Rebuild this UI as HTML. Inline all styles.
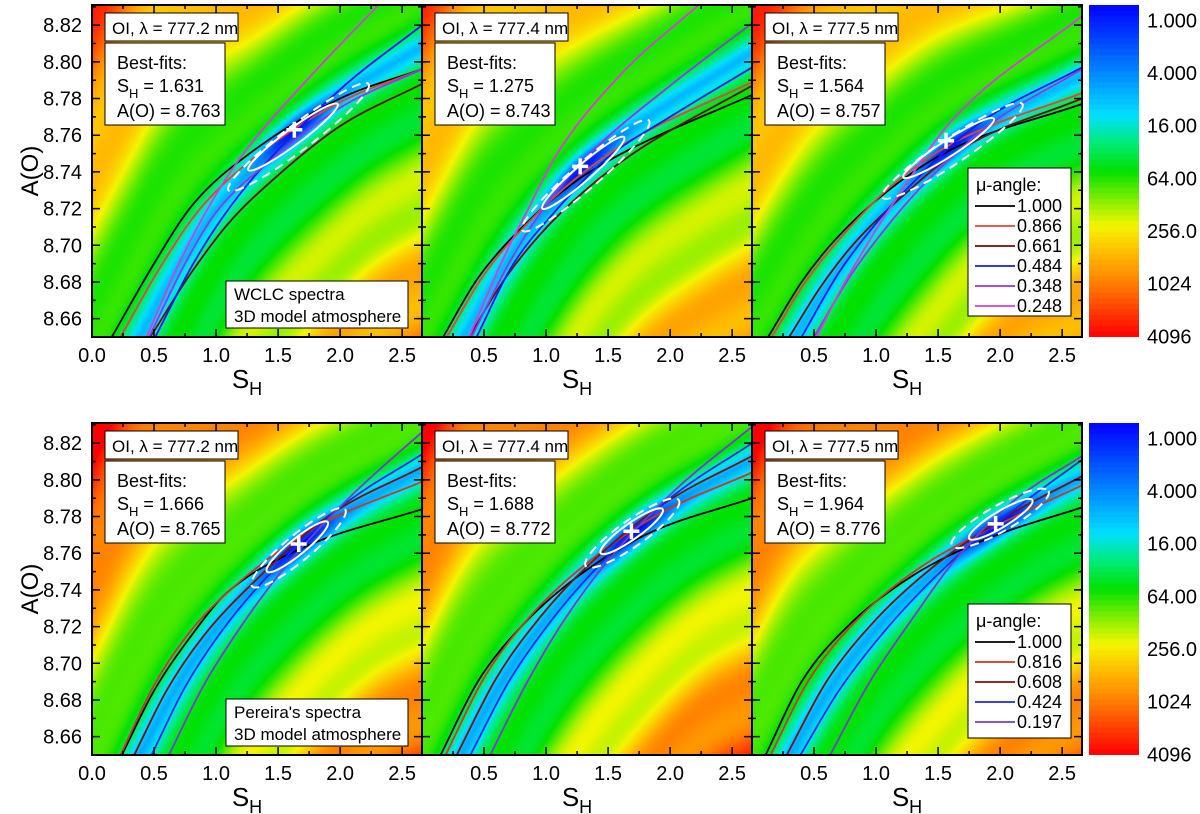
<!DOCTYPE html>
<html><head><meta charset="utf-8">
<style>
html,body{margin:0;padding:0;background:#fff;}
#wrap{position:relative;width:1200px;height:814px;overflow:hidden;font-family:"Liberation Sans",Arial,sans-serif;}
canvas{position:absolute;}
svg{position:absolute;left:0;top:0;}
</style></head>
<body>
<div id="wrap">
<svg id="svg" width="1200" height="814" xmlns="http://www.w3.org/2000/svg"></svg>
</div>
<script>
// ---- data ----
const xTicks = [0, 0.5, 1.0, 1.5, 2.0, 2.5];
const xTickLabels = ["0.0", "0.5", "1.0", "1.5", "2.0", "2.5"];
const yTicks = [8.66, 8.68, 8.70, 8.72, 8.74, 8.76, 8.78, 8.80, 8.82];
const yTickLabels = ["8.66", "8.68", "8.70", "8.72", "8.74", "8.76", "8.78", "8.80", "8.82"];
const cbLabels = ["1.000", "4.000", "16.00", "64.00", "256.0", "1024", "4096"];
const lineNames = ["OI, λ = 777.2 nm", "OI, λ = 777.4 nm", "OI, λ = 777.5 nm"];
const bestS = [1.631, 1.275, 1.564, 1.666, 1.688, 1.964];
const bestA = [8.763, 8.743, 8.757, 8.765, 8.772, 8.776];
const bestSLabels = ["1.631", "1.275", "1.564", "1.666", "1.688", "1.964"];
const bestALabels = ["8.763", "8.743", "8.757", "8.765", "8.772", "8.776"];
const muTop = ["1.000", "0.866", "0.661", "0.484", "0.348", "0.248"];
const muBottom = ["1.000", "0.816", "0.608", "0.424", "0.197"];
// ellipse long-axis endpoints [x1,A1,x2,A2]
const solidEll = [[1.26,8.741,1.98,8.777],[0.97,8.720,1.63,8.759],[1.22,8.737,1.95,8.769],[1.41,8.750,1.90,8.777],[1.44,8.760,1.94,8.784],[1.75,8.768,2.26,8.789]];
const dashEll = [[1.10,8.730,2.23,8.788],[0.81,8.708,1.83,8.768],[1.05,8.726,2.18,8.777],[1.29,8.742,2.04,8.784],[1.32,8.753,2.07,8.789],[1.61,8.764,2.39,8.794]];
// mu-angle curves per panel: [S_H, A(O)] points
const curvesT1 = [
 [[.16,8.65],[.5,8.69],[.81,8.722],[1.29,8.751],[2.0,8.78],[2.66,8.796]],
 [[.23,8.65],[.55,8.688],[.86,8.719],[1.35,8.750],[2.0,8.778],[2.66,8.796]],
 [[.47,8.65],[.8,8.685],[1.1,8.712],[1.48,8.737],[2.0,8.765],[2.66,8.788]],
 [[.51,8.65],[.8,8.688],[1.05,8.715],[1.34,8.740],[2.0,8.785],[2.66,8.820]],
 [[.46,8.65],[.75,8.69],[1.0,8.718],[1.40,8.744],[2.0,8.775],[2.66,8.796]],
 [[.44,8.65],[.7,8.69],[.95,8.722],[1.21,8.749],[1.8,8.795],[2.31,8.831]]];
const curvesT2 = [
 [[.17,8.65],[.45,8.682],[.81,8.710],[1.2,8.733],[1.61,8.75],[2.66,8.782]],
 [[.20,8.65],[.5,8.684],[.85,8.712],[1.25,8.737],[1.65,8.756],[2.66,8.789]],
 [[.38,8.65],[.65,8.68],[.94,8.705],[1.3,8.729],[1.7,8.75],[2.66,8.787]],
 [[.44,8.65],[.72,8.688],[1.08,8.719],[1.5,8.748],[2.0,8.77],[2.66,8.797]],
 [[.40,8.65],[.7,8.69],[1.0,8.722],[1.34,8.749],[2.0,8.787],[2.66,8.821]],
 [[.38,8.65],[.65,8.692],[.85,8.719],[1.08,8.749],[1.6,8.793],[2.23,8.831]]];
const curvesT3 = [
 [[.13,8.65],[.4,8.68],[.67,8.703],[1.1,8.73],[1.6,8.752],[2.66,8.777]],
 [[.16,8.65],[.42,8.679],[.7,8.703],[1.1,8.731],[1.6,8.755],[2.66,8.783]],
 [[.30,8.65],[.55,8.677],[.81,8.70],[1.2,8.726],[1.7,8.753],[2.66,8.780]],
 [[.40,8.65],[.7,8.685],[1.0,8.712],[1.21,8.728],[1.8,8.765],[2.66,8.797]],
 [[.50,8.65],[.8,8.684],[1.05,8.707],[1.34,8.73],[1.9,8.765],[2.66,8.796]],
 [[.52,8.65],[.75,8.68],[.95,8.703],[1.13,8.722],[1.61,8.768],[2.66,8.825]]];
const curvesB1 = [
 [[.24,8.65],[.5,8.685],[.8,8.715],[1.08,8.738],[1.7,8.763],[2.66,8.784]],
 [[.23,8.65],[.5,8.688],[.8,8.718],[1.2,8.745],[1.8,8.774],[2.66,8.799]],
 [[.34,8.65],[.6,8.685],[.9,8.715],[1.3,8.744],[1.9,8.78],[2.66,8.807]],
 [[.48,8.65],[.75,8.687],[1.05,8.718],[1.45,8.75],[2.0,8.785],[2.66,8.814]],
 [[.62,8.65],[.9,8.688],[1.2,8.72],[1.55,8.752],[2.1,8.792],[2.66,8.826]]];
const curvesB2 = [
 [[.15,8.65],[.45,8.69],[.8,8.72],[1.21,8.745],[1.8,8.77],[2.66,8.790]],
 [[.19,8.65],[.5,8.692],[.85,8.724],[1.3,8.753],[1.9,8.781],[2.66,8.804]],
 [[.28,8.65],[.6,8.692],[.95,8.725],[1.35,8.754],[1.95,8.787],[2.66,8.813]],
 [[.39,8.65],[.7,8.69],[1.05,8.724],[1.45,8.755],[2.0,8.79],[2.66,8.820]],
 [[.55,8.65],[.85,8.69],[1.15,8.724],[1.5,8.756],[2.05,8.795],[2.66,8.829]]];
const curvesB3 = [
 [[.11,8.65],[.4,8.69],[.8,8.722],[1.3,8.748],[1.9,8.768],[2.66,8.785]],
 [[.15,8.65],[.45,8.69],[.85,8.724],[1.35,8.752],[2.0,8.776],[2.66,8.797]],
 [[.28,8.65],[.6,8.69],[1.0,8.724],[1.45,8.752],[2.0,8.778],[2.66,8.802]],
 [[.39,8.65],[.7,8.685],[1.1,8.72],[1.6,8.755],[2.1,8.783],[2.66,8.811]],
 [[.63,8.65],[.95,8.69],[1.3,8.725],[1.61,8.754],[2.1,8.788],[2.66,8.813]]];
const allCurves = [curvesT1, curvesT2, curvesT3, curvesB1, curvesB2, curvesB3];
const topColors = ["#000000", "#e8403a", "#6a1010", "#1a1ae6", "#8a3ae6", "#d040d8"];
const botColors = ["#000000", "#c83a22", "#7a1010", "#1a2ae6", "#7040c8"];

// ---- geometry ----
const XMAX = 2.66, AMIN = 8.65, AMAX = 8.831;
const PW = 330, PH = 332;
const lefts = [92, 422, 752], tops = [5, 423];
function sx(p, x){ return lefts[p%3] + x / XMAX * PW; }
function sy(p, a){ return tops[Math.floor(p/3)] + (AMAX - a) / (AMAX - AMIN) * PH; }

const svg = document.getElementById('svg');
const NS = "http://www.w3.org/2000/svg";
function mk(tag, attrs, parent){ const e = document.createElementNS(NS, tag); for (const k in attrs) e.setAttribute(k, attrs[k]); (parent||svg).appendChild(e); return e; }

// colormap on log4 level 0..6
const cstops = [[0,0,0,255],[1,0,110,255],[2,0,225,255],[2.5,0,235,120],[3,0,225,0],[3.6,150,240,0],[4,245,245,0],[4.5,255,185,0],[5,255,130,0],[6,255,0,0]];
function cmap(L){
  if (L <= 0) return [0,0,255];
  if (L >= 6) return [255,0,0];
  for (let i=0;i<cstops.length-1;i++){ const a=cstops[i], b=cstops[i+1];
    if (L>=a[0] && L<=b[0]){ const t=(L-a[0])/(b[0]-a[0]); return [a[1]+(b[1]-a[1])*t, a[2]+(b[2]-a[2])*t, a[3]+(b[3]-a[3])*t]; } }
  return [255,0,0];
}
function tangents(P){
  const n=P.length, dk=[], m=[];
  for (let i=0;i<n-1;i++) dk.push((P[i+1][1]-P[i][1])/(P[i+1][0]-P[i][0]));
  m.push(dk[0]);
  for (let i=1;i<n-1;i++){ m.push(dk[i-1]*dk[i]<=0?0:(dk[i-1]+dk[i])/2); }
  m.push(dk[n-2]);
  for (let i=0;i<n-1;i++){ if (dk[i]===0){m[i]=0;m[i+1]=0;continue;} const a=m[i]/dk[i], b=m[i+1]/dk[i]; const s=a*a+b*b; if (s>9){ const t=3/Math.sqrt(s); m[i]=t*a*dk[i]; m[i+1]=t*b*dk[i]; } }
  return m;
}
function interpA(pts, x){
  const m = tangents(pts); const n = pts.length;
  if (x <= pts[0][0]) return pts[0][1] + m[0]*(x-pts[0][0]);
  if (x >= pts[n-1][0]) return pts[n-1][1] + m[n-1]*(x-pts[n-1][0]);
  let i = 0; while (x > pts[i+1][0]) i++;
  const h = pts[i+1][0]-pts[i][0], t = (x-pts[i][0])/h;
  const h00=2*t*t*t-3*t*t+1, h10=t*t*t-2*t*t+t, h01=-2*t*t*t+3*t*t, h11=t*t*t-t*t;
  return h00*pts[i][1]+h10*h*m[i]+h01*pts[i+1][1]+h11*h*m[i+1];
}

// ---- backgrounds ----
for (let p=0;p<6;p++){
  const cv = document.createElement('canvas');
  cv.width = PW; cv.height = PH;
  cv.style.left = lefts[p%3] + 'px'; cv.style.top = tops[Math.floor(p/3)] + 'px';
  
  
  document.getElementById('wrap').insertBefore(cv, svg);
  const ctx = cv.getContext('2d'); const img = ctx.createImageData(PW, PH);
  const curves = allCurves[p];
  const raw = [];
  for (let c=-40;c<=PW+40;c++){ const x = c/PW*XMAX; let s=0; curves.forEach(cu=>{ s+=interpA(cu,x); }); raw.push((AMAX - s/curves.length)/(AMAX-AMIN)*PH); }
  const yc = [];
  for (let c=-1;c<=PW;c++){ let s=0,k=0; for (let j=-25;j<=25;j++){ const idx=c+40+j; if(idx>=0&&idx<raw.length){s+=raw[idx];k++;} } yc.push(s/k); }
  const bot = p>=3;
  const ka = bot?0.021:0.016, kb = bot?0.0125:0.0105, base = bot?2.3:2.4;
  const bx = (bestS[p]/XMAX)*PW, by = (AMAX-bestA[p])/(AMAX-AMIN)*PH;
  for (let c=0;c<PW;c++){
    const slope = (yc[c+2]-yc[c])/2; const cs = 1/Math.sqrt(1+slope*slope);
    for (let r=0;r<PH;r++){
      const d = (yc[c+1]-r)*cs;
      const ad = Math.abs(d);
      let L = base + (d>0?ka:kb)*ad + 0.3*Math.sin(2*Math.PI*ad/80 - 0.6) - 0.6*Math.exp(-(ad/16)*(ad/16));
      const along = ((c-bx) + (r-by)*slope) * cs;
      L -= 1.5*Math.exp(-(along/45)*(along/45) - (d/11)*(d/11));
      const col = cmap(L); const k = (r*PW+c)*4;
      img.data[k]=col[0]; img.data[k+1]=col[1]; img.data[k+2]=col[2]; img.data[k+3]=255;
    }
  }
  ctx.putImageData(img,0,0);
}

// colorbars
for (let row=0; row<2; row++){
  const cv = document.createElement('canvas');
  cv.width = 50; cv.height = 332;
  cv.style.left = '1089px'; cv.style.top = tops[row] + 'px';
  
  
  document.getElementById('wrap').insertBefore(cv, svg);
  const ctx = cv.getContext('2d');
  const nb = 60;
  for (let i=0;i<nb;i++){ const L = (i+0.5)/nb*6; const col = cmap(L); ctx.fillStyle = 'rgb('+col.map(Math.round).join(',')+')'; ctx.fillRect(0, i*332/nb, 50, 332/nb+1); }
  cbLabels.forEach((lab,i)=>{
    const t = mk('text', {x:1147, y: tops[row] + 17 + i*(316/6), 'font-size':20, 'dominant-baseline':'middle', fill:'#000'});
    t.textContent = lab;
    
    
  });
}

function pathFrom(p, pts){
  const m = tangents(pts);
  let d = 'M'+sx(p,pts[0][0]).toFixed(1)+','+sy(p,pts[0][1]).toFixed(1);
  for (let i=0;i<pts.length-1;i++){
    const h = pts[i+1][0]-pts[i][0];
    const c1x = pts[i][0]+h/3, c1a = pts[i][1]+m[i]*h/3;
    const c2x = pts[i+1][0]-h/3, c2a = pts[i+1][1]-m[i+1]*h/3;
    d += ' C'+sx(p,c1x).toFixed(1)+','+sy(p,c1a).toFixed(1)+' '+sx(p,c2x).toFixed(1)+','+sy(p,c2a).toFixed(1)+' '+sx(p,pts[i+1][0]).toFixed(1)+','+sy(p,pts[i+1][1]).toFixed(1);
  }
  return d;
}
function ellipse(p, e, dash, parent){
  const x1=sx(p,e[0]), y1=sy(p,e[1]), x2=sx(p,e[2]), y2=sy(p,e[3]);
  const cx=(x1+x2)/2, cy=(y1+y2)/2, rx=Math.hypot(x2-x1,y2-y1)/2, ang=Math.atan2(y2-y1,x2-x1)*180/Math.PI;
  return mk('ellipse', {cx:cx, cy:cy, rx:rx, ry: dash?13:8, transform:'rotate('+ang+' '+cx+' '+cy+')', fill:'none', stroke:'#fff', 'stroke-width':2, 'stroke-dasharray': dash?'9,6':'none'}, parent);
}
function addText(x, y, str, size, parent, name, anchor){
  const t = mk('text', {x:x, y:y, 'font-size':size, fill:'#000', 'text-anchor':anchor||'start'}, parent);
  t.textContent = str;
  
  
  return t;
}

const defs = mk('defs', {});
for (let p=0;p<6;p++){
  const L = lefts[p%3], T = tops[Math.floor(p/3)];
  const cp = mk('clipPath', {id:'clip'+p}, defs); mk('rect', {x:L, y:T, width:PW, height:PH}, cp);
  const g = mk('g', {'clip-path':'url(#clip'+p+')'});
  
  
  const colors = p<3 ? topColors : botColors;
  allCurves[p].forEach((cu,i)=>{
    const pe = mk('path', {d: pathFrom(p, cu), fill:'none', stroke: colors[i], 'stroke-width':1.8}, g);
    
    
  });
  const e1 = ellipse(p, solidEll[p], false, g);
  
  
  const e2 = ellipse(p, dashEll[p], true, g);
  
  
  const bxp = sx(p,bestS[p]), byp = sy(p,bestA[p]);
  const cr = mk('path', {d:'M'+(bxp-8)+','+byp+' H'+(bxp+8)+' M'+bxp+','+(byp-8)+' V'+(byp+8), stroke:'#fff', 'stroke-width':3.5}, g);
  
  

  const fr = mk('rect', {x:L, y:T, width:PW, height:PH, fill:'none', stroke:'#000', 'stroke-width':2});
  
  
  let td = '';
  for (let x=0.25; x<XMAX; x+=0.25){ const X=sx(p,x); const len = (Math.abs(x*2-Math.round(x*2))<1e-6)?8:4; td += 'M'+X+','+(T+PH)+' v-'+len+' M'+X+','+T+' v'+len+' '; }
  for (let a=8.66; a<AMAX; a+=0.01){ const Y=sy(p,a); const major = Math.round(a*100)%2===0; const len = major?8:4; td += 'M'+L+','+Y+' h'+len+' M'+(L+PW)+','+Y+' h-'+len+' '; }
  const tk = mk('path', {d:td, stroke:'#000', 'stroke-width':1.5, fill:'none'});
  
  

  xTicks.forEach((x,i)=>{ if (p%3!==0 && i===0) return; addText(sx(p,x), T+PH+25, xTickLabels[i], 20, svg, 'x-tick-label', 'middle'); });
  const xt = mk('text', {x: L+PW/2-10, y: T+PH+51, 'font-size':26, fill:'#000', 'text-anchor':'middle'});
  xt.innerHTML = 'S<tspan dy="7" font-size="18">H</tspan>';
  
  
  if (p%3===0){
    yTicks.forEach((a,i)=>{ addText(82, sy(p,a)+7, yTickLabels[i], 20, svg, 'y-tick-label', 'end'); });
    const yt = mk('text', {x:0, y:0, 'font-size':24, fill:'#000', 'text-anchor':'middle', transform:'translate(38,'+(T+PH/2)+') rotate(-90)'});
    yt.textContent = 'A(O)';
    
    
  }
  const lb = mk('g', {});
  
  
  mk('rect', {x:L+13, y:T+8, width:133, height:28, fill:'#fff', stroke:'#000', 'stroke-width':1}, lb);
  addText(L+20, T+29, lineNames[p%3], 17, lb, 'line-label-text');
  const bb = mk('g', {});
  
  
  mk('rect', {x:L+13, y:T+38, width:120, height:82, fill:'#fff', stroke:'#000', 'stroke-width':1}, bb);
  addText(L+25, T+64, 'Best-fits:', 18, bb, 'best-fit-title');
  const s = mk('text', {x:L+25, y:T+87, 'font-size':18, fill:'#000'}, bb);
  s.innerHTML = 'S<tspan dy="6" font-size="13">H</tspan><tspan dy="-6"> = ' + bestSLabels[p] + '</tspan>';
  
  
  addText(L+25, T+112, 'A(O) = ' + bestALabels[p], 18, bb, 'best-fit-abundance');
}

function srcBox(p, l1, l2){
  const L = lefts[p%3], T = tops[Math.floor(p/3)];
  const g = mk('g', {});
  
  
  mk('rect', {x:L+134, y:T+PH-56, width:182, height:47, fill:'#fff', stroke:'#000', 'stroke-width':1}, g);
  addText(L+142, T+PH-37, l1, 17, g, 'source-line-1');
  addText(L+142, T+PH-15, l2, 17, g, 'source-line-2');
}
srcBox(0, 'WCLC spectra', '3D model atmosphere');
srcBox(3, "Pereira's spectra", '3D model atmosphere');

function legend(p, names, colors, y0, h){
  const L = 968;
  const g = mk('g', {});
  
  
  mk('rect', {x:L, y:y0, width:103, height:h, fill:'#fff', stroke:'#000', 'stroke-width':1}, g);
  addText(L+8, y0+23, 'μ-angle:', 18, g, 'legend-title');
  names.forEach((n,i)=>{
    const yy = y0+44+i*20;
    const ln = mk('line', {x1:L+7, x2:L+47, y1:yy-6, y2:yy-6, stroke:colors[i], 'stroke-width':1.8}, g);
    
    
    addText(L+49, yy, n, 18, g, 'legend-entry');
  });
}
legend(2, muTop, topColors, 168, 148);
legend(5, muBottom, botColors, 604, 134);
</script>
</body></html>
